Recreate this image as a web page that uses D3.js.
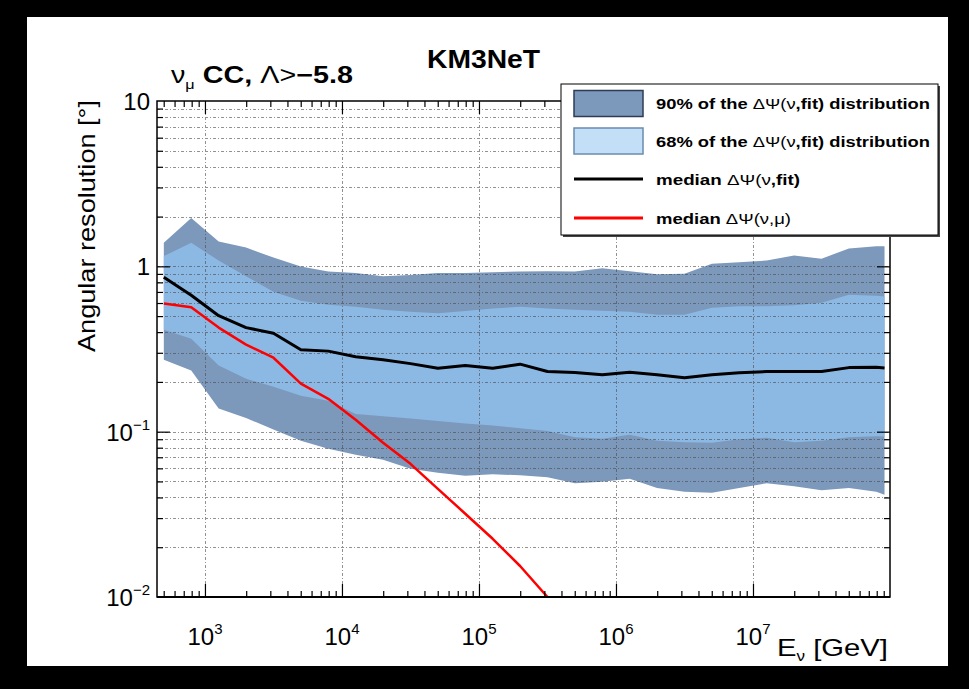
<!DOCTYPE html>
<html>
<head>
<meta charset="utf-8">
<script src="https://cdn.jsdelivr.net/npm/d3@7"></script>
<style>
  html, body { margin: 0; padding: 0; background: #000; }
  svg { display: block; font-family: "Liberation Sans", Arial, Helvetica, sans-serif; }
</style>
</head>
<body>
<svg id="chart" width="969" height="689"></svg>
<script>
// Neutrino energy bins [GeV]
const energies = [501, 794, 1259, 1995, 3162, 5012, 7943, 12589, 19953, 31623, 50119, 79433,
  125893, 199526, 316228, 501187, 794328, 1258925, 1995262, 3162278, 5011872, 7943282,
  12589254, 19952623, 31622777, 50118723, 79432823, 91201084];

// 90% containment band of the angular error [deg]
const band90High = [1.391, 1.958, 1.411, 1.298, 1.129, 0.998, 0.929, 0.910, 0.872, 0.885, 0.910, 0.912,
  0.922, 0.929, 0.933, 0.929, 0.975, 0.935, 0.897, 0.903, 1.038, 1.060, 1.083, 1.161, 1.113, 1.280, 1.321, 1.321];
const band90Low = [0.272, 0.234, 0.138, 0.121, 0.103, 0.0881, 0.0788, 0.0725, 0.0676, 0.0596, 0.0564, 0.0541,
  0.0552, 0.0545, 0.0530, 0.0487, 0.0497, 0.0519, 0.0457, 0.0433, 0.0427, 0.0457, 0.0487, 0.0467, 0.0442, 0.0457, 0.0433, 0.0415];

// 68% containment band [deg]
const band68High = [1.153, 1.391, 1.083, 0.872, 0.703, 0.620, 0.586, 0.570, 0.547, 0.532, 0.521, 0.536,
  0.555, 0.570, 0.555, 0.547, 0.539, 0.532, 0.510, 0.510, 0.562, 0.573, 0.574, 0.582, 0.603, 0.674, 0.665, 0.658];
const band68Low = [0.414, 0.365, 0.251, 0.209, 0.187, 0.165, 0.154, 0.128, 0.124, 0.120, 0.116, 0.112,
  0.109, 0.105, 0.101, 0.0925, 0.0906, 0.0958, 0.0881, 0.0863, 0.0857, 0.0900, 0.0918, 0.0863, 0.0881, 0.0925, 0.0938, 0.0936];

// median angle between neutrino and reconstructed track [deg]
const medianFit = [0.860, 0.669, 0.503, 0.426, 0.394, 0.313, 0.307, 0.284, 0.272, 0.258, 0.242, 0.251,
  0.242, 0.256, 0.231, 0.228, 0.221, 0.229, 0.221, 0.212, 0.221, 0.227, 0.231, 0.231, 0.231, 0.244, 0.245, 0.243];

// median angle between neutrino and muon [deg] (first bins only; the rest is below the axis)
const medianMu = [0.595, 0.566, 0.426, 0.336, 0.280, 0.195, 0.158, 0.118, 0.0857, 0.0639, 0.0451,
  0.0319, 0.0225, 0.0154, 0.0100];

// axis labels
const xTickExponents = [3, 4, 5, 6, 7];
const yTickLabels = [
  { v: 10, base: "10", sup: "" },
  { v: 1, base: "1", sup: "" },
  { v: 0.1, base: "10", sup: "\u22121" },
  { v: 0.01, base: "10", sup: "\u22122" }
];

const legendItems = [
  { kind: "band90", parts: [["90% of the ", "bold"], ["\u0394\u03A8(\u03BD", "normal"], [",fit) distribution", "bold"]], len: 274 },
  { kind: "band68", parts: [["68% of the ", "bold"], ["\u0394\u03A8(\u03BD", "normal"], [",fit) distribution", "bold"]], len: 274 },
  { kind: "fit", parts: [["median ", "bold"], ["\u0394\u03A8(\u03BD", "normal"], [",fit)", "bold"]], len: 144 },
  { kind: "mu", parts: [["median ", "bold"], ["\u0394\u03A8(\u03BD,\u03BC)", "normal"]], len: 135 }
];

const colors = {
  band90: "#7c98bb",
  band68: "#8cb8e4",
  band68Legend: "#c3dff8",
  fit: "#000000",
  mu: "#ff0000"
};

const svg = d3.select("#chart");

// canvas
svg.append("rect").attr("x", 0).attr("y", 0).attr("width", 969).attr("height", 689).attr("fill", "#000");
svg.append("rect").attr("x", 27).attr("y", 17).attr("width", 921).attr("height", 649).attr("fill", "#fff");

const frame = { left: 157, right: 890, top: 101, bottom: 597 };

const x = d3.scaleLog().domain([Math.pow(10, 2.65), 1e8]).range([frame.left, frame.right]);
const y = d3.scaleLog().domain([0.01, 10]).range([frame.bottom, frame.top]);

svg.append("defs").append("clipPath").attr("id", "plotClip")
  .append("rect")
  .attr("x", frame.left).attr("y", frame.top)
  .attr("width", frame.right - frame.left).attr("height", frame.bottom - frame.top);

const plot = svg.append("g").attr("clip-path", "url(#plotClip)");

const bandArea = (lo, hi) => d3.area()
  .x((d, i) => x(energies[i]))
  .y0((d, i) => y(lo[i]))
  .y1((d, i) => y(hi[i]));

plot.append("path").datum(energies).attr("d", bandArea(band90Low, band90High)).attr("fill", colors.band90);
plot.append("path").datum(energies).attr("d", bandArea(band68Low, band68High)).attr("fill", colors.band68);

// tick values
const decadesY = [-2, -1, 0];
const yMinor = [];
decadesY.forEach(k => { for (let m = 2; m <= 9; m++) yMinor.push(m * Math.pow(10, k)); });

const xMinor = [];
for (let k = 2; k <= 7; k++) {
  for (let m = 2; m <= 9; m++) {
    const v = m * Math.pow(10, k);
    if (v >= x.domain()[0] && v <= 1e8) xMinor.push(v);
  }
}
const xMajor = [1e3, 1e4, 1e5, 1e6, 1e7];

// dotted grid
const grid = plot.append("g").attr("stroke", "#4a4a4a").attr("stroke-width", 1)
  .attr("stroke-dasharray", "3,2,1,2").attr("opacity", 0.6);
grid.selectAll(".gy").data(yMinor.concat([0.1, 1])).enter().append("line")
  .attr("x1", frame.left).attr("x2", frame.right)
  .attr("y1", d => Math.round(y(d)) + 0.5).attr("y2", d => Math.round(y(d)) + 0.5);
grid.selectAll(".gx").data(xMajor).enter().append("line")
  .attr("y1", frame.top).attr("y2", frame.bottom)
  .attr("x1", d => Math.round(x(d)) + 0.5).attr("x2", d => Math.round(x(d)) + 0.5);

// median curves
const line = vals => d3.line()
  .x((d, i) => x(energies[i]))
  .y((d, i) => y(vals[i]))(vals);

plot.append("path").attr("d", line(medianFit)).attr("fill", "none")
  .attr("stroke", colors.fit).attr("stroke-width", 3).attr("stroke-linejoin", "round");
plot.append("path").attr("d", line(medianMu)).attr("fill", "none")
  .attr("stroke", colors.mu).attr("stroke-width", 2.5).attr("stroke-linejoin", "round");

// axes: ticks pointing into the frame on all four sides
function tickAxis(axisFn, scale, values, size, transform) {
  const g = svg.append("g").attr("transform", transform)
    .call(axisFn(scale).tickValues(values).tickSize(-size).tickSizeOuter(0).tickFormat(""));
  g.select(".domain").remove();
  g.selectAll("line").attr("stroke", "#000").attr("stroke-width", 1.2);
  return g;
}
tickAxis(d3.axisBottom, x, xMajor, 13, `translate(0,${frame.bottom})`);
tickAxis(d3.axisBottom, x, xMinor, 6, `translate(0,${frame.bottom})`);
tickAxis(d3.axisTop, x, xMajor, 13, `translate(0,${frame.top})`);
tickAxis(d3.axisTop, x, xMinor, 6, `translate(0,${frame.top})`);
tickAxis(d3.axisLeft, y, [0.1, 1], 13, `translate(${frame.left},0)`);
tickAxis(d3.axisLeft, y, yMinor, 6, `translate(${frame.left},0)`);
tickAxis(d3.axisRight, y, [0.1, 1], 13, `translate(${frame.right},0)`);
tickAxis(d3.axisRight, y, yMinor, 6, `translate(${frame.right},0)`);

// frame
svg.append("rect")
  .attr("x", frame.left).attr("y", frame.top)
  .attr("width", frame.right - frame.left).attr("height", frame.bottom - frame.top)
  .attr("fill", "none").attr("stroke", "#000").attr("stroke-width", 1.5);
svg.append("line").attr("x1", frame.left).attr("x2", frame.right)
  .attr("y1", frame.bottom).attr("y2", frame.bottom).attr("stroke", "#000").attr("stroke-width", 2);

// x tick labels
const xl = svg.append("g").attr("font-size", 24).attr("fill", "#000");
xTickExponents.forEach(e => {
  const t = xl.append("text").attr("x", x(Math.pow(10, e))).attr("y", 645).attr("text-anchor", "middle");
  t.append("tspan").text("10");
  t.append("tspan").attr("font-size", 15).attr("dy", -11).text(String(e));
});

// y tick labels
const yl = svg.append("g").attr("font-size", 24).attr("fill", "#000");
yTickLabels.forEach(d => {
  const t = yl.append("text").attr("x", 150).attr("y", y(d.v) + 9).attr("text-anchor", "end");
  t.append("tspan").text(d.base);
  if (d.sup) t.append("tspan").attr("font-size", 15).attr("dy", -11).text(d.sup);
});

// axis titles
const xt = svg.append("text").attr("x", 888).attr("y", 656).attr("text-anchor", "end").attr("font-size", 24)
  .attr("textLength", 111).attr("lengthAdjust", "spacingAndGlyphs");
xt.append("tspan").text("E");
xt.append("tspan").attr("font-size", 14).attr("dy", 5).text("\u03BD");
xt.append("tspan").attr("dy", -5).text(" [GeV]");

svg.append("text")
  .attr("transform", "translate(95,100) rotate(-90)")
  .attr("text-anchor", "end").attr("font-size", 24)
  .attr("textLength", 252).attr("lengthAdjust", "spacingAndGlyphs")
  .text("Angular resolution [\u00B0]");

// titles
const sel = svg.append("text").attr("x", 171).attr("y", 83).attr("font-size", 23)
  .attr("textLength", 182).attr("lengthAdjust", "spacingAndGlyphs");
sel.append("tspan").attr("font-weight", "normal").text("\u03BD");
sel.append("tspan").attr("font-size", 13).attr("dy", 6).text("\u03BC");
sel.append("tspan").attr("dy", -6).attr("font-weight", "bold").text(" CC, ");
sel.append("tspan").attr("font-weight", "normal").text("\u039B>");
sel.append("tspan").attr("font-weight", "bold").text("\u22125.8");

svg.append("text").attr("x", 427).attr("y", 68).attr("font-size", 25).attr("font-weight", "bold")
  .attr("textLength", 113).attr("lengthAdjust", "spacingAndGlyphs").text("KM3NeT");

// legend
const lg = { x: 561, y: 84, w: 377, h: 151 };
svg.append("rect").attr("x", lg.x + 2).attr("y", lg.y + 2).attr("width", lg.w).attr("height", lg.h).attr("fill", "#444");
svg.append("rect").attr("x", lg.x).attr("y", lg.y).attr("width", lg.w).attr("height", lg.h)
  .attr("fill", "#fff").attr("stroke", "#000").attr("stroke-width", 1);

const rowY = [103.5, 141, 179, 218];
legendItems.forEach((item, i) => {
  const cy = rowY[i];
  if (item.kind === "band90") {
    svg.append("rect").attr("x", 574).attr("y", cy - 13).attr("width", 69).attr("height", 26)
      .attr("fill", colors.band90).attr("stroke", "#2c3d55").attr("stroke-width", 1.5);
  } else if (item.kind === "band68") {
    svg.append("rect").attr("x", 574).attr("y", cy - 13).attr("width", 69).attr("height", 26)
      .attr("fill", colors.band68Legend).attr("stroke", "#6a8cad").attr("stroke-width", 1.5);
  } else {
    svg.append("line").attr("x1", 574).attr("x2", 643).attr("y1", cy).attr("y2", cy)
      .attr("stroke", colors[item.kind]).attr("stroke-width", 3);
  }
  const t = svg.append("text").attr("x", 656).attr("y", cy + 5.5).attr("font-size", 15)
    .attr("textLength", item.len).attr("lengthAdjust", "spacingAndGlyphs");
  item.parts.forEach(([s, w]) => t.append("tspan").attr("font-weight", w).text(s));
});
</script>
</body>
</html>
